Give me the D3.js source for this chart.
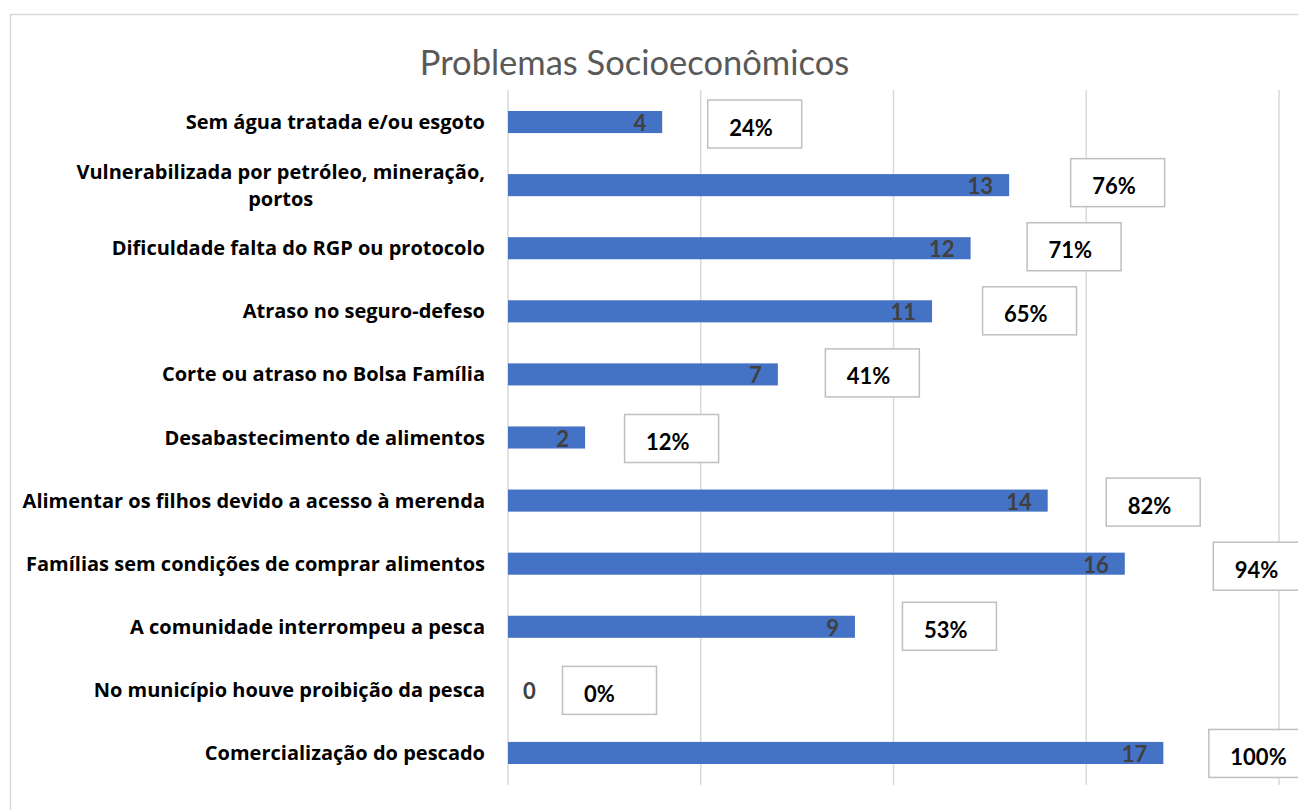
<!DOCTYPE html>
<html>
<head>
<meta charset="utf-8">
<script src="https://cdn.jsdelivr.net/npm/d3@7"></script>
<style>
  body { margin: 0; background: #fff; }
  svg { display: block; }
  .cat { font-family: "Open Sans", Lato, sans-serif; font-weight: 700; font-size: 20px; fill: #000; }
  .val { font-family: Lato, "Open Sans", sans-serif; font-weight: 700; font-size: 22px; fill: #404040; }
  .pct { font-family: Lato, "Open Sans", sans-serif; font-weight: 700; font-size: 22px; fill: #000; }
  .title { font-family: Lato, "Open Sans", sans-serif; font-size: 34.5px; fill: #595959; }
</style>
</head>
<body>
<div id="chart"></div>
<script>
// data, top to bottom as drawn
const categories = [
  "Sem água tratada e/ou esgoto",
  "Vulnerabilizada por petróleo, mineração, portos",
  "Dificuldade falta do RGP ou protocolo",
  "Atraso no seguro-defeso",
  "Corte ou atraso no Bolsa Família",
  "Desabastecimento de alimentos",
  "Alimentar os filhos devido a acesso à merenda",
  "Famílias sem condições de comprar alimentos",
  "A comunidade interrompeu a pesca",
  "No município houve proibição da pesca",
  "Comercialização do pescado"
];
const counts = [4, 13, 12, 11, 7, 2, 14, 16, 9, 0, 17];
const pctLabels = ["24%", "76%", "71%", "65%", "41%", "12%", "82%", "94%", "53%", "0%", "100%"];
const xTicks = [0, 5, 10, 15, 20];

// the percent boxes were dragged by hand in the original, so nudge each one
const boxNudgeX = [45, 61, 56, 50, 47, 39, 58, 88, 47, 54, 45];
const boxNudgeY = [1.5, -3, -2, -1, -2, 0.5, 1, 2, -1, 0, 0];

const W = 1298, H = 810;
const svg = d3.select("#chart").append("svg").attr("width", W).attr("height", H);

// outer chart border
svg.append("rect")
  .attr("x", 10.5).attr("y", 14.5)
  .attr("width", W).attr("height", H)
  .attr("fill", "none").attr("stroke", "#d9d9d9").attr("stroke-width", 1.5);

svg.append("text")
  .attr("class", "title")
  .attr("x", 634.5).attr("y", 75)
  .attr("text-anchor", "middle")
  .text("Problemas Socioeconômicos");

const x = d3.scaleLinear().domain([0, 20]).range([508, 1279]);
const y = d3.scaleBand().domain(categories).range([90.5, 784.5])
  .paddingInner(0.65).paddingOuter(0.325);
const yc = d => y(d) + y.bandwidth() / 2;

// gridlines
svg.append("g")
  .selectAll("line")
  .data(xTicks)
  .join("line")
  .attr("x1", d => x(d)).attr("x2", d => x(d))
  .attr("y1", 90).attr("y2", 785)
  .attr("stroke", "#d9d9d9").attr("stroke-width", 1.5);

// bars
svg.append("g")
  .selectAll("rect")
  .data(categories)
  .join("rect")
  .attr("x", x(0))
  .attr("y", d => y(d))
  .attr("width", (d, i) => x(counts[i]) - x(0))
  .attr("height", y.bandwidth())
  .attr("fill", "#4472c4");

// category labels, wrapped when too long
const maxW = 475;
const cats = svg.append("g");
categories.forEach(c => {
  const t = cats.append("text").attr("class", "cat").attr("text-anchor", "end");
  const words = c.split(" ");
  let lines = [], cur = [];
  words.forEach(w => {
    t.text(cur.concat(w).join(" "));
    if (cur.length && t.node().getComputedTextLength() > maxW) {
      lines.push(cur.join(" "));
      cur = [w];
    } else cur.push(w);
  });
  lines.push(cur.join(" "));
  t.text(null);
  if (lines.length === 1) {
    t.attr("x", 485).attr("y", yc(c) + 7).text(lines[0]);
  } else {
    // multi-line labels are centred as a block, block right edge at 485
    const lh = 27;
    const top = yc(c) - (lines.length - 1) * lh / 2 + 7;
    const tmp = lines.map(l => { t.text(l); return t.node().getComputedTextLength(); });
    t.text(null);
    const bw = d3.max(tmp);
    t.attr("text-anchor", "middle");
    lines.forEach((l, k) => {
      t.append("tspan").attr("x", 485 - bw / 2).attr("y", top + k * lh).text(l);
    });
  }
});

// value labels inside end of bars
svg.append("g")
  .selectAll("text")
  .data(categories)
  .join("text")
  .attr("class", "val")
  .attr("text-anchor", (d, i) => counts[i] === 0 ? "start" : "end")
  .attr("x", (d, i) => counts[i] === 0 ? x(0) + 15 : x(counts[i]) - 16)
  .attr("y", d => yc(d) + 9)
  .text((d, i) => counts[i]);

// percent boxes
const boxW = 94, boxH = 48;
const boxes = svg.append("g")
  .selectAll("g")
  .data(categories)
  .join("g")
  .attr("transform", (d, i) =>
    `translate(${x(counts[i]) + boxNudgeX[i]},${yc(d) + boxNudgeY[i] - boxH / 2})`);
boxes.append("rect")
  .attr("x", 0.5).attr("y", 0.5)
  .attr("width", boxW).attr("height", boxH)
  .attr("fill", "#fff").attr("stroke", "#bfbfbf").attr("stroke-width", 1.5);
boxes.append("text")
  .attr("class", "pct")
  .attr("x", 22).attr("y", boxH / 2 + 12)
  .text((d, i) => pctLabels[i]);
</script>
</body>
</html>
